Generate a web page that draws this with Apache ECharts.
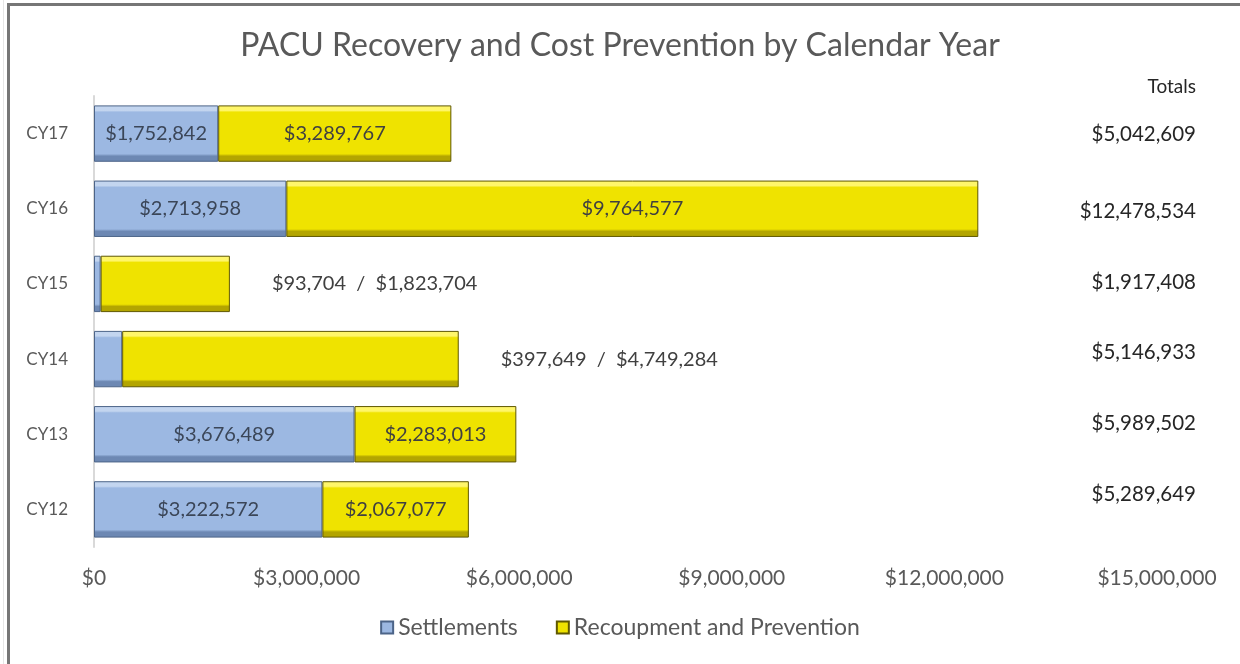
<!DOCTYPE html>
<html>
<head>
<meta charset="utf-8">
<script src="https://cdn.jsdelivr.net/npm/echarts@6/dist/echarts.min.js"></script>
<style>
  html, body { margin: 0; padding: 0; background: #ffffff; }
  #chart { width: 1240px; height: 664px; }
</style>
</head>
<body>
<div id="chart"></div>
<script>
// Calendar years, bottom to top on the category axis
const categories = ['CY12', 'CY13', 'CY14', 'CY15', 'CY16', 'CY17'];
const settlements = [3222572, 3676489, 397649, 93704, 2713958, 1752842];
const recoupment = [2067077, 2283013, 4749284, 1823704, 9764577, 3289767];
const totals = [5289649, 5989502, 5146933, 1917408, 12478534, 5042609];
const xTicks = [0, 3000000, 6000000, 9000000, 12000000, 15000000];

const FONT = 'Lato, "Noto Sans", sans-serif';
const TEXT = '#595959';

function money(v) {
  return '$' + Math.round(v).toLocaleString('en-US');
}

// Bevelled look: light top edge, flat fill, darker bottom edge
function bevel(light, fill, dark) {
  return new echarts.graphic.LinearGradient(0, 0, 0, 1, [
    { offset: 0, color: light },
    { offset: 0.09, color: light },
    { offset: 0.12, color: fill },
    { offset: 0.86, color: fill },
    { offset: 0.9, color: dark },
    { offset: 1, color: dark }
  ]);
}

const blueStyle = {
  color: bevel('#c3d5ef', '#9cb8e2', '#6d88b3'),
  borderColor: '#4c6488',
  borderWidth: 1
};
const yellowStyle = {
  color: bevel('#fff66a', '#efe300', '#b3a500'),
  borderColor: '#5f5800',
  borderWidth: 1
};

// Small settlements do not fit inside their bar; both values go to the right of the stack
const SMALL = 1000000;

const settlementData = settlements.map((v) => ({
  value: v,
  label: { show: v >= SMALL }
}));
const recoupData = recoupment.map((v, i) => {
  const small = settlements[i] < SMALL;
  return {
    value: v,
    label: small
      ? { show: true, position: 'right', distance: 42,
          formatter: () => money(settlements[i]) + '  /  ' + money(v) }
      : { show: true, position: 'inside' }
  };
});

const chart = echarts.init(document.getElementById('chart'));

// Layout of the totals column (pixel rows), text from the totals array
const totalsRight = 1196;
const totalsRows = [497, 426, 355, 285, 214, 137];

const graphics = [
  // frame lines along the top and left edges
  { type: 'rect', shape: { x: 7, y: 3, width: 1233, height: 3 }, style: { fill: '#767676' }, silent: true },
  { type: 'rect', shape: { x: 7, y: 3, width: 3, height: 661 }, style: { fill: '#767676' }, silent: true },
  { type: 'rect', shape: { x: 3, y: 0, width: 1, height: 664 }, style: { fill: '#e6e6e6' }, silent: true },
  {
    type: 'text', right: 1240 - totalsRight, top: 88 - 11,
    style: { text: 'Totals', font: '19px ' + FONT, fill: '#262626', textAlign: 'right' }
  }
];
totals.forEach((t, i) => {
  graphics.push({
    type: 'text', right: 1240 - totalsRight, top: totalsRows[i] - 13,
    style: { text: money(t), font: '20.5px ' + FONT, fill: '#262626', textAlign: 'right' }
  });
});

chart.setOption({
  animation: false,
  backgroundColor: '#ffffff',
  title: {
    text: 'PACU Recovery and Cost Prevention by Calendar Year',
    left: 'center',
    top: 25,
    textStyle: { fontFamily: FONT, fontSize: 32, fontWeight: 'normal', color: TEXT }
  },
  legend: {
    bottom: 20,
    left: 'center',
    icon: 'rect',
    itemWidth: 12,
    itemHeight: 12,
    itemGap: 38,
    textStyle: { fontFamily: FONT, fontSize: 23, color: TEXT },
    data: ['Settlements', 'Recoupment and Prevention']
  },
  grid: { left: 94, right: 83, top: 96, bottom: 117, containLabel: false },
  xAxis: {
    type: 'value',
    min: 0,
    max: xTicks[xTicks.length - 1],
    interval: xTicks[1] - xTicks[0],
    axisLine: { show: false },
    axisTick: { show: false },
    splitLine: { show: false },
    axisLabel: {
      margin: 21,
      fontFamily: FONT, fontSize: 21, color: TEXT,
      formatter: (v) => money(v)
    }
  },
  yAxis: {
    type: 'category',
    data: categories,
    axisLine: { show: true, lineStyle: { color: '#d9d9d9', width: 2 } },
    axisTick: { show: false },
    axisLabel: { margin: 26, fontFamily: FONT, fontSize: 17, color: TEXT }
  },
  series: [
    {
      name: 'Settlements',
      type: 'bar',
      stack: 'total',
      barCategoryGap: '25%',
      data: settlementData,
      itemStyle: blueStyle,
      label: {
        position: 'inside',
        fontFamily: FONT, fontSize: 20, color: '#3b4658',
        formatter: (p) => money(p.value)
      }
    },
    {
      name: 'Recoupment and Prevention',
      type: 'bar',
      stack: 'total',
      data: recoupData,
      itemStyle: yellowStyle,
      label: {
        fontFamily: FONT, fontSize: 20, color: '#404040',
        formatter: (p) => money(p.value)
      }
    }
  ],
  graphic: graphics
});
</script>
</body>
</html>
